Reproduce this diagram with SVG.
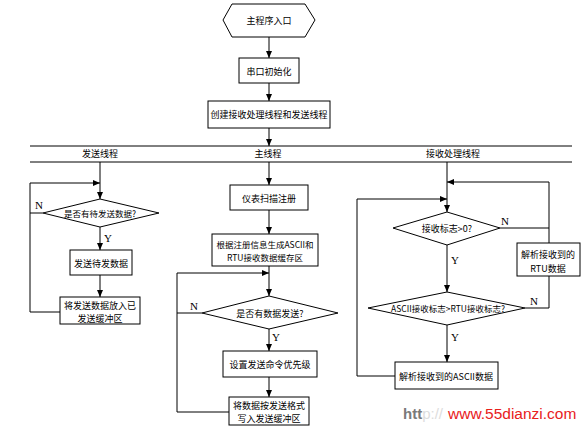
<svg xmlns="http://www.w3.org/2000/svg" width="582" height="426" viewBox="0 0 582 426">
<style>
.b{fill:#fff;stroke:#000;stroke-width:1}
.l{fill:none;stroke:#000;stroke-width:1}
.t{font-family:"Noto Sans CJK SC","Liberation Sans",sans-serif;font-size:9px;fill:#000;text-anchor:middle;dominant-baseline:central}
.yn{font-family:"Liberation Serif",serif;font-size:11px;fill:#000;text-anchor:middle;dominant-baseline:central}
</style>
<defs>
<marker id="a" markerUnits="userSpaceOnUse" markerWidth="7" markerHeight="7" viewBox="0 0 7 7" refX="7" refY="3.5" orient="auto">
<path d="M0,0.5 L7,3.5 L0,6.5 Z" fill="#000"/>
</marker>
</defs>
<rect width="582" height="426" fill="#fff"/>

<g id="connectors">
<line class="l" x1="269" y1="37" x2="269" y2="58" marker-end="url(#a)"/>
<line class="l" x1="269" y1="83" x2="269" y2="101" marker-end="url(#a)"/>
<line class="l" x1="269" y1="128" x2="269" y2="146" marker-end="url(#a)"/>
<line class="l" x1="30" y1="146" x2="572" y2="146"/>
<line class="l" x1="30" y1="162" x2="572" y2="162"/>
<!-- left column -->
<line class="l" x1="100" y1="162" x2="100" y2="199" marker-end="url(#a)"/>
<polyline class="l" points="43,213 30,213 30,183 100,183" marker-end="url(#a)"/>
<polyline class="l" points="60,312 30,312 30,213"/>
<line class="l" x1="100" y1="227" x2="100" y2="250" marker-end="url(#a)"/>
<line class="l" x1="100" y1="275" x2="100" y2="297" marker-end="url(#a)"/>
<!-- main column -->
<line class="l" x1="269" y1="162" x2="269" y2="185" marker-end="url(#a)"/>
<line class="l" x1="269" y1="210" x2="269" y2="234" marker-end="url(#a)"/>
<line class="l" x1="269" y1="266" x2="269" y2="296" marker-end="url(#a)"/>
<polyline class="l" points="202,313 177,313 177,273 269,273" marker-end="url(#a)"/>
<polyline class="l" points="229,412 177,412 177,313"/>
<line class="l" x1="269" y1="329" x2="269" y2="351" marker-end="url(#a)"/>
<line class="l" x1="269" y1="377" x2="269" y2="397" marker-end="url(#a)"/>
<!-- right column -->
<line class="l" x1="447" y1="162" x2="447" y2="212" marker-end="url(#a)"/>
<polyline class="l" points="549,243 549,182 447,182" marker-end="url(#a)"/>
<line class="l" x1="500" y1="228" x2="549" y2="228"/>
<polyline class="l" points="549,276 549,308 525,308"/>
<line class="l" x1="447" y1="245" x2="447" y2="292" marker-end="url(#a)"/>
<line class="l" x1="447" y1="325" x2="447" y2="362" marker-end="url(#a)"/>
<polyline class="l" points="395,376 357,376 357,199 447,199" marker-end="url(#a)"/>
</g>

<g id="labels">
<text class="t" x="100" y="153">发送线程</text>
<text class="t" x="268" y="153">主线程</text>
<text class="t" x="453" y="153">接收处理线程</text>
<text class="yn" x="39" y="205">N</text>
<text class="yn" x="108" y="238">Y</text>
<text class="yn" x="194" y="306">N</text>
<text class="yn" x="276" y="337">Y</text>
<text class="yn" x="505" y="221">N</text>
<text class="yn" x="455" y="260">Y</text>
<text class="yn" x="534" y="301">N</text>
<text class="yn" x="455" y="337">Y</text>
</g>

<g id="start">
<polygon class="b" points="223,20 232,4 305,4 315,20 305,37 232,37"/>
<text class="t" x="269" y="20">主程序入口</text>
</g>
<g id="init">
<rect class="b" x="239" y="58" width="60" height="25"/>
<text class="t" x="269" y="71">串口初始化</text>
</g>
<g id="create">
<rect class="b" x="208" y="101" width="122" height="27"/>
<text class="t" x="269" y="114">创建接收处理线程和发送线程</text>
</g>

<g id="d_send">
<polygon class="b" points="43,213 100,199 159,213 100,227"/>
<text class="t" x="100" y="213" style="font-size:8.5px">是否有待发送数据?</text>
</g>
<g id="send_data">
<rect class="b" x="70" y="250" width="62" height="25"/>
<text class="t" x="101" y="263">发送待发数据</text>
</g>
<g id="put_buf">
<rect class="b" x="60" y="297" width="80" height="27"/>
<text class="t" x="100" y="305">将发送数据放入已</text>
<text class="t" x="100" y="318">发送缓冲区</text>
</g>

<g id="scan">
<rect class="b" x="230" y="185" width="78" height="25"/>
<text class="t" x="269" y="198">仪表扫描注册</text>
</g>
<g id="gen">
<rect class="b" x="212" y="234" width="106" height="32"/>
<text class="t" x="265" y="244" style="font-size:8.5px">根据注册信息生成ASCII和</text>
<text class="t" x="265" y="257" style="font-size:8.5px">RTU接收数据缓存区</text>
</g>
<g id="d_main">
<polygon class="b" points="202,313 269,296 338,313 269,329"/>
<text class="t" x="270" y="313">是否有数据发送?</text>
</g>
<g id="prio">
<rect class="b" x="223" y="351" width="94" height="26"/>
<text class="t" x="270" y="364">设置发送命令优先级</text>
</g>
<g id="write_buf">
<rect class="b" x="229" y="397" width="80" height="28"/>
<text class="t" x="269" y="405">将数据按发送格式</text>
<text class="t" x="269" y="418">写入发送缓冲区</text>
</g>

<g id="d_flag">
<polygon class="b" points="393,228 447,212 500,228 447,245"/>
<text class="t" x="447" y="228">接收标志&gt;0?</text>
</g>
<g id="rtu">
<rect class="b" x="517" y="243" width="63" height="33"/>
<text class="t" x="548" y="254">解析接收到的</text>
<text class="t" x="548" y="268">RTU数据</text>
</g>
<g id="d_cmp">
<polygon class="b" points="368,308 447,292 525,308 447,325"/>
<text class="t" x="448" y="308" style="font-size:8.5px">ASCII接收标志&gt;RTU接收标志?</text>
</g>
<g id="ascii">
<rect class="b" x="395" y="362" width="103" height="27"/>
<text class="t" x="446" y="376">解析接收到的ASCII数据</text>
</g>

<g id="watermark">
<text x="403" y="419" style="font-family:'Liberation Sans',sans-serif;font-size:15px;font-weight:bold;fill:#7a7a7a">htt<tspan style="fill:#ddd;font-weight:normal">p://</tspan></text>
<text x="448" y="419" style="font-family:'Liberation Sans',sans-serif;font-size:15.5px;fill:#e8201c">www.55dianzi.com</text>
</g>
</svg>
